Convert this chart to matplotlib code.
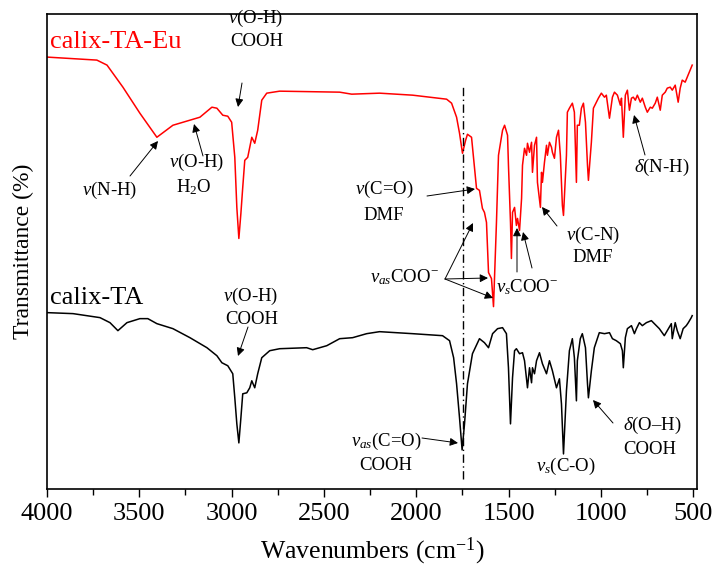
import matplotlib
matplotlib.use("Agg")
import matplotlib.pyplot as plt

# spectra (arbitrary transmittance units, offset stacked)
wn_eu = [4000, 3730, 3675, 3589, 3497, 3405, 3318, 3226, 3172, 3107, 3080, 3048, 3021, 3000,
         2983, 2972, 2961, 2950, 2940, 2929, 2913, 2891, 2875, 2859, 2837, 2810, 2740, 2415,
         2350, 2199, 2020, 1836, 1809, 1782, 1766, 1750, 1733, 1723, 1701, 1685, 1674, 1658,
         1642, 1631, 1620, 1609, 1593, 1582, 1566, 1555, 1533, 1522, 1506, 1501, 1490, 1485,
         1479, 1468, 1458, 1452, 1441, 1430, 1425, 1414, 1403, 1398, 1387, 1376, 1371, 1360,
         1349, 1344, 1328, 1322, 1317, 1306, 1295, 1290, 1279, 1268, 1263, 1252, 1241, 1230,
         1220, 1209, 1203, 1187, 1182, 1171, 1155, 1144, 1133, 1128, 1117, 1106, 1095, 1084,
         1073, 1068, 1052, 1041, 1025, 1014, 998, 981, 971, 954, 938, 927, 911, 895, 889, 879,
         868, 857, 846, 835, 825, 814, 803, 787, 776, 760, 749, 733, 722, 706, 695, 679, 668,
         652, 641, 625, 614, 598, 582, 571, 560, 544, 533, 517, 506]
t_eu = [431, 428, 423, 401, 375, 351, 363, 368, 371, 381, 380, 373, 372, 366,
        331, 281, 250, 275, 301, 328, 331, 351, 345, 358, 388, 395, 397, 396,
        394, 395, 393, 389, 385, 371, 355, 335, 348, 354, 351, 321, 300, 298,
        280, 276, 266, 216, 210, 182, 266, 333, 358, 363, 353, 323, 266, 230,
        276, 281, 263, 270, 258, 290, 323, 340, 333, 345, 336, 346, 316, 343,
        351, 306, 281, 316, 306, 326, 343, 333, 346, 341, 336, 330, 351, 358,
        333, 283, 273, 333, 376, 380, 385, 376, 306, 363, 363, 380, 385, 366,
        323, 308, 346, 380, 386, 390, 395, 391, 393, 370, 391, 396, 393, 383, 390, 351,
        393, 398, 378, 390, 391, 388, 393, 386, 390, 381, 376, 381, 380, 385, 391, 378, 393,
        396, 400, 401, 398, 403, 386, 400, 408, 406, 411, 418, 423]

wn_ta = [4000, 3859, 3713, 3659, 3616, 3567, 3497, 3454, 3405, 3318, 3226, 3134, 3080, 3053,
         3021, 2994, 2983, 2972, 2961, 2950, 2940, 2918, 2902, 2891, 2875, 2859, 2837, 2794,
         2740, 2594, 2561, 2485, 2415, 2345, 2269, 2199, 2020, 1858, 1820, 1798, 1782, 1766,
         1752, 1739, 1723, 1696, 1658, 1631, 1609, 1587, 1560, 1533, 1512, 1501, 1490, 1479,
         1468, 1458, 1441, 1425, 1414, 1398, 1387, 1376, 1371, 1360, 1349, 1333, 1317, 1295,
         1279, 1263, 1241, 1225, 1214, 1203, 1187, 1171, 1155, 1144, 1133, 1128, 1112, 1101,
         1084, 1073, 1068, 1052, 1036, 1009, 981, 954, 938, 917, 895, 884, 879, 868, 857, 835,
         819, 808, 792, 776, 754, 727, 711, 684, 657, 641, 619, 614, 598, 587, 571, 555, 538,
         527, 511, 506]
t_ta = [176, 175, 171, 166, 158, 166, 170, 170, 165, 160, 151, 141, 133, 126,
        123, 115, 91, 65, 46, 71, 95, 96, 101, 108, 101, 115, 131, 138,
        140, 141, 139, 143, 150, 151, 155, 157, 155, 153, 148, 131, 105, 71,
        39, 65, 105, 135, 150, 146, 141, 155, 160, 161, 155, 121, 65, 111,
        138, 140, 135, 136, 128, 101, 121, 106, 121, 115, 128, 136, 125, 115,
        128, 118, 101, 110, 85, 35, 98, 138, 150, 131, 88, 128, 150, 155,
        141, 105, 91, 118, 141, 156, 155, 156, 150, 148, 145, 138, 121, 151, 160, 163,
        155, 160, 166, 163, 166, 168, 165, 160, 153, 158, 165, 150, 166, 158, 150, 160, 163,
        166, 171, 173]

ref_wn = 1747  # dash-dot guide through the C=O band

plt.rcParams["font.family"] = ["Liberation Serif", "DejaVu Serif"]
plt.rcParams["mathtext.fontset"] = "custom"
plt.rcParams["mathtext.rm"] = "Liberation Serif"
plt.rcParams["mathtext.it"] = "Liberation Serif:italic"

W, H = 714, 569
fig = plt.figure(figsize=(W / 100, H / 100), dpi=100)
ax = fig.add_axes([47 / W, (H - 489) / H, 650 / W, 475 / H])

ax.plot(wn_eu, t_eu, color="#ff0000", lw=1.1)
ax.plot(wn_ta, t_ta, color="black", lw=1.1)
ax.axvline(ref_wn, ymin=10 / 474, ymax=403 / 474, color="black", lw=1,
           linestyle=(0, (6, 2.5, 1, 2.5)))

ax.set_xlim(4000, 480)
ax.set_ylim(0, 474)
ax.set_xticks(range(4000, 499, -500))
ax.set_xticks(range(3750, 499, -500), minor=True)
ax.set_yticks([])
ax.tick_params(axis="x", direction="out", length=6, width=1, labelsize=19, pad=4)
ax.tick_params(axis="x", which="minor", direction="out", length=4, width=1)
for s in ax.spines.values():
    s.set_linewidth(1.2)
ax.set_xlabel(r"Wavenumbers (cm$^{-1}$)", fontsize=18.5, labelpad=8)
ax.set_ylabel("Transmittance (%)", fontsize=17, labelpad=9)


def fp(x, y):
    # position in reference image pixels -> figure pixels
    return (x, H - y)


def label(txt, x, y, size=13.5, color="black"):
    fig.text(*fp(x, y), txt, transform=None, ha="center", va="center",
             fontsize=size, color=color)


def arrow(tail, tip):
    ax.annotate("", xy=fp(*tip), xytext=fp(*tail), xycoords="figure pixels",
                textcoords="figure pixels",
                arrowprops=dict(arrowstyle="-|>", color="black", lw=0.7,
                                mutation_scale=12, shrinkA=0, shrinkB=0))


# sample names
fig.text(*fp(50, 42), "calix-TA-Eu", transform=None, ha="left", va="center",
         fontsize=19, color="#ff0000")
fig.text(*fp(50, 298), "calix-TA", transform=None, ha="left", va="center",
         fontsize=19, color="black")

# calix-TA-Eu assignments
label(r"$\nu$(O-H)", 256, 18)
label("COOH", 257, 42)
arrow((242, 83), (238, 107))
label(r"$\nu$(N-H)", 110, 190)
arrow((130, 176), (158, 141))
label(r"$\nu$(O-H)", 197, 162)
label(r"H$_2$O", 194, 187)
arrow((203, 156), (194, 124))
label(r"$\nu$(C=O)", 384, 189)
label("DMF", 384, 215)
arrow((427, 196), (475, 189))
label(r"$\nu_{as}$COO$^{-}$", 404, 277)
arrow((445, 279), (473, 223))
arrow((445, 279), (488, 278))
arrow((445, 279), (493, 298))
label(r"$\nu_s$COO$^{-}$", 527, 287)
arrow((517, 272), (517, 228))
arrow((532, 268), (523, 232))
label(r"$\nu$(C-N)", 593, 235)
label("DMF", 593, 258)
arrow((557, 226), (542, 207))
label(r"$\delta$(N-H)", 662, 167)
arrow((645, 155), (634, 115))

# calix-TA assignments
label(r"$\nu$(O-H)", 251, 296)
label("COOH", 252, 319)
arrow((248, 327), (238, 356))
label(r"$\nu_{as}$(C=O)", 386, 441)
label("COOH", 386, 466)
arrow((422, 438), (458, 443))
label(r"$\nu_s$(C-O)", 566, 466)
label(r"$\delta$(O–H)", 652, 425)
label("COOH", 650, 449)
arrow((613, 423), (593, 400))

fig.savefig("out.png", dpi=100)
